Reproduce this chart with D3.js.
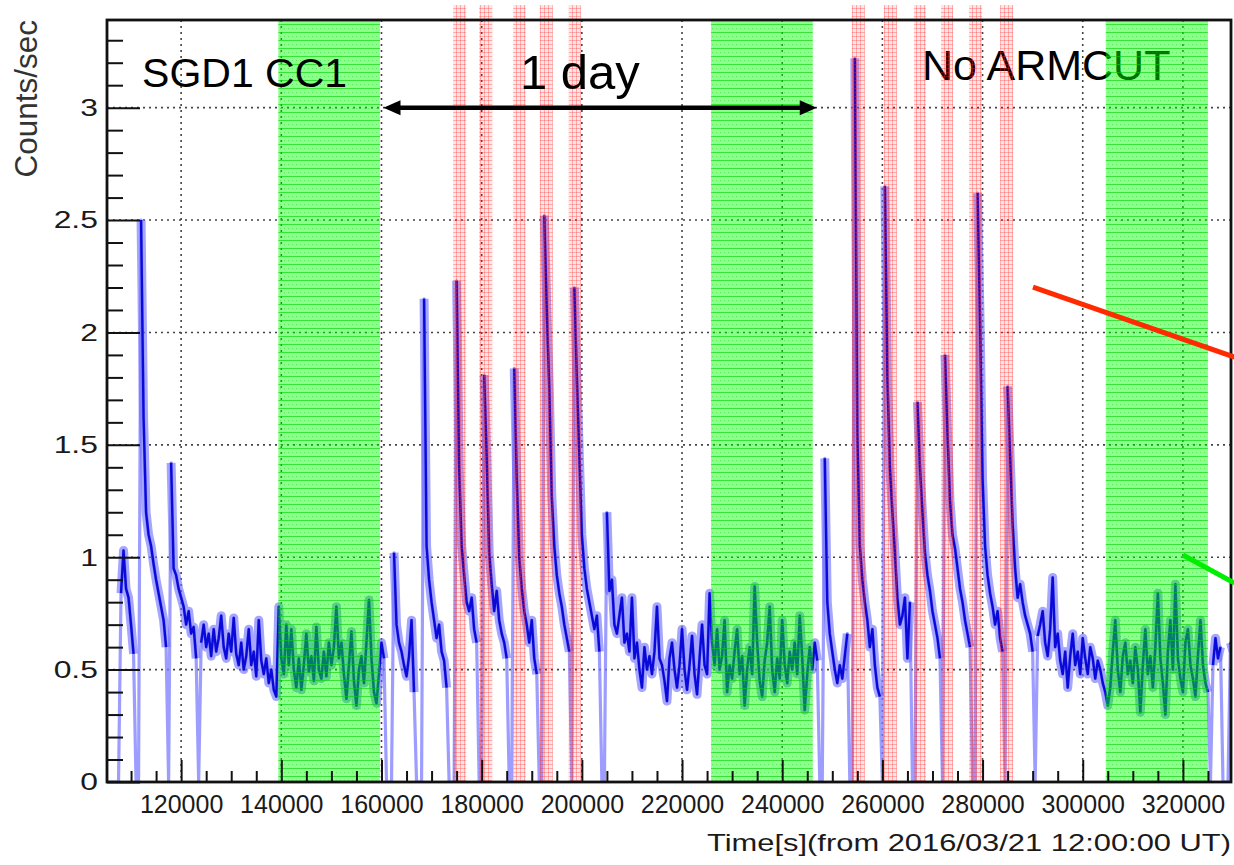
<!DOCTYPE html>
<html><head><meta charset="utf-8">
<script src="https://cdn.jsdelivr.net/npm/d3@7"></script>
<style>
body{margin:0;background:#fff;}
svg{display:block;}
text{font-family:'Liberation Sans',Arial,Helvetica,sans-serif;}
</style>
</head><body>
<svg id="c" width="1234" height="865"></svg>
<script>
// ---------------- data ----------------
const binStart = 105250;   // first bin lower edge [s]
const binWidth = 500;      // bin width [s]
const counts = [
  0,0,0,0,0,
  0.84,1.03,0.86,0.82,0.70,0.57,
  0,0,
  2.50,1.62,1.20,1.10,1.05,0.97,0.90,0.84,0.78,0.72,0.60,
  0,
  1.42,0.95,0.92,0.86,0.82,0.78,0.70,0.76,0.66,0.69,0.55,
  0,
  0.62,0.70,0.60,0.66,0.56,0.68,0.58,0.64,0.74,0.60,0.55,0.66,0.58,0.73,0.57,0.52,
  0.62,0.50,0.56,0.68,0.52,0.58,0.47,0.72,0.54,0.48,0.55,0.44,0.50,0.41,0.38,0.78,
  0.55,0.48,0.70,0.52,0.68,0.50,0.42,0.55,0.41,0.52,0.66,0.49,0.56,0.45,0.69,0.50,
  0.46,0.58,0.47,0.62,0.52,0.60,0.78,0.55,0.62,0.48,0.37,0.52,0.67,0.45,0.34,0.50,
  0.56,0.44,0.62,0.81,0.55,0.40,0.35,0.48,0.62,0.55,
  0,0,0,
  1.02,0.70,0.62,0.58,0.52,0.47,0.56,0.72,0.40,
  0,0,0,
  2.15,1.05,0.90,0.80,0.72,0.64,0.70,0.58,0.54,0.42,
  0,0,0,
  2.23,1.40,1.05,0.92,0.80,0.76,0.82,0.68,0.62,
  0,0,
  1.81,1.45,1.02,0.88,0.76,0.85,0.72,0.66,0.62,0.55,
  0,0,
  1.84,1.35,1.00,0.86,0.76,0.70,0.62,0.72,0.55,0.48,
  0,0,
  2.52,2.10,1.75,1.27,1.05,0.92,0.84,0.78,0.70,0.64,0.58,
  0,
  2.20,1.80,1.45,1.10,0.95,0.86,0.80,0.74,0.68,0.74,0.58,
  0,0,
  1.20,0.85,0.90,0.70,0.66,0.74,0.82,0.62,0.66,0.58,0.82,0.55,0.62,0.50,0.42,0.60,
  0.50,0.56,0.48,0.58,0.78,0.55,0.52,0.45,0.36,0.55,0.62,0.50,0.42,0.52,0.68,0.50,
  0.41,0.52,0.65,0.48,0.39,0.55,0.70,0.52,0.48,0.84,
  0.62,0.52,0.68,0.50,0.56,0.72,0.40,0.52,0.46,0.58,0.68,0.48,0.56,0.34,0.50,0.60,
  0.48,0.87,0.62,0.45,0.38,0.54,0.62,0.78,0.50,0.40,0.55,0.46,0.72,0.52,0.44,0.58,
  0.50,0.62,0.48,0.74,0.55,0.32,0.48,0.60,0.50,0.62,0.54,
  0,0,
  1.44,0.80,0.66,0.58,0.50,0.44,0.52,0.46,0.56,0.66,
  0,0,
  3.22,1.55,1.05,0.90,0.80,0.72,0.60,0.68,0.52,0.42,0.38,
  0,
  2.65,1.80,1.40,1.20,1.02,0.82,0.70,0.74,0.82,0.55,0.80,
  0,0,
  1.69,1.40,1.20,1.02,0.92,0.85,0.76,0.70,0.64,0.55,
  0,
  1.90,1.55,1.25,1.10,1.04,0.95,0.86,0.80,0.72,0.66,0.60,
  0,0,
  2.62,2.05,1.35,1.05,0.92,0.84,0.78,0.70,0.76,0.64,0.58,
  0,
  1.76,1.45,1.15,0.95,0.82,0.88,0.80,0.74,0.70,0.66,0.58,
  0,
  0.65,0.70,0.76,0.62,0.56,0.68,0.91,0.60,0.66,0.54,0.48,0.58,0.42,0.56,0.66,0.52,
  0.58,0.48,0.64,0.55,0.48,0.60,0.55,0.46,0.54,0.50,0.44,0.40,0.34,
  0.42,0.58,0.72,0.50,0.40,0.56,0.62,0.48,0.54,0.44,0.60,0.50,0.31,0.52,0.68,0.48,
  0.56,0.42,0.60,0.84,0.55,0.44,0.30,0.58,0.72,0.50,0.88,0.55,0.46,0.40,0.62,0.68,
  0.52,0.46,0.38,0.56,0.72,0.52,0.44,0.40,
  0,
  0.52,0.64,0.55,0.60,
  0,0,0,
  0.62,0.58
];
const greenStart = [139400, 225800, 304600];
const greenEnd   = [159700, 246100, 325000];
const redStart = [174300, 179500, 186300, 191600, 197400, 253900, 260300, 266300, 271700, 277300, 283500];
const redEnd   = [176900, 182100, 188800, 194200, 199800, 256500, 262900, 268700, 274100, 279900, 286100];
const xTicks = [120000,140000,160000,180000,200000,220000,240000,260000,280000,300000,320000];
const yTicks = [0,0.5,1,1.5,2,2.5,3];
const xDomain = [105200, 329600];
const yDomain = [0, 3.39];
const labelTexts = ["SGD1 CC1", "1 day", "No ARMCUT"];
const labelT = [112200, 187650, 267900];
const labelV = [3.09, 3.083, 3.123];
const labelSize = [41, 49, 43];
const labelOnTop = [true, true, false];
const arrowSpan = [160400, 246900];
const arrowLevel = 3.0;
const redLinePts = [[290070, 2.202], [330300, 1.89]];
const greenLinePts = [[320000, 1.01], [330300, 0.885]];
const xTitle = "Time[s](from 2016/03/21 12:00:00 UT)";
const yTitle = "Counts/sec";

// ---------------- drawing ----------------
const svg = d3.select("#c");
const M = {l:107, r:1231, t:20, b:782};
const x = d3.scaleLinear().domain(xDomain).range([M.l, M.r]);
const y = d3.scaleLinear().domain(yDomain).range([M.b, M.t]);

const defs = svg.append("defs");
defs.append("clipPath").attr("id","plotclip").append("rect")
  .attr("x",M.l).attr("y",M.t).attr("width",M.r-M.l).attr("height",M.b-M.t);
const gp = defs.append("pattern").attr("id","gpat").attr("patternUnits","userSpaceOnUse")
  .attr("width",4).attr("height",8);
gp.append("rect").attr("width",4).attr("height",8).attr("fill","#00ff00").attr("fill-opacity",0.45);
gp.append("rect").attr("width",4).attr("height",1).attr("fill","#00d000").attr("fill-opacity",0.6);
gp.append("rect").attr("x",0).attr("y",4).attr("width",1).attr("height",1).attr("fill","#00c000").attr("fill-opacity",0.35);
const rp = defs.append("pattern").attr("id","rpat").attr("patternUnits","userSpaceOnUse")
  .attr("width",4).attr("height",4);
rp.append("rect").attr("width",4).attr("height",4).attr("fill","#ff0000").attr("fill-opacity",0.10);
rp.append("rect").attr("width",4).attr("height",1).attr("fill","#ff3030").attr("fill-opacity",0.32);
rp.append("rect").attr("width",1).attr("height",4).attr("fill","#ff3030").attr("fill-opacity",0.32);

// grid
const grid = svg.append("g");
grid.selectAll("line.vx").data(xTicks).join("line")
  .attr("x1",d=>x(d)).attr("x2",d=>x(d)).attr("y1",M.t).attr("y2",M.b)
  .attr("stroke","#444").attr("stroke-width",1.6).attr("stroke-dasharray","2,4");
grid.selectAll("line.hy").data(yTicks.filter(d=>d>0)).join("line")
  .attr("y1",d=>y(d)).attr("y2",d=>y(d)).attr("x1",M.l).attr("x2",M.r)
  .attr("stroke","#444").attr("stroke-width",1.6).attr("stroke-dasharray","2,4");

// annotation texts drawn under the bands
const addLabels = (flag) => svg.append("g").selectAll("text")
  .data(labelTexts.map((t,i)=>({t,i})).filter(d=>labelOnTop[d.i]===flag)).join("text")
  .attr("x",d=>x(labelT[d.i])).attr("y",d=>y(labelV[d.i]))
  .attr("font-size",d=>labelSize[d.i]).attr("fill","#000").text(d=>d.t);
addLabels(false);

// data
const bx = (d,i)=>x(binStart + binWidth*i + binWidth/2);
const lineAll = d3.line().x(bx).y(d=>y(d));
const lineOn = d3.line().defined(d=>d>0).x(bx).y(d=>y(d));
const dg = svg.append("g").attr("clip-path","url(#plotclip)");
dg.append("path").datum(counts).attr("d",lineAll).attr("fill","none")
  .attr("stroke","#7c7cff").attr("stroke-opacity",0.75).attr("stroke-width",3.2).attr("stroke-linejoin","round");
dg.append("path").datum(counts).attr("d",lineOn).attr("fill","none")
  .attr("stroke","#6a6aff").attr("stroke-opacity",0.6).attr("stroke-width",9).attr("stroke-linejoin","round");
dg.append("path").datum(counts).attr("d",lineOn).attr("fill","none")
  .attr("stroke","#0a0ad8").attr("stroke-width",2.4).attr("stroke-linejoin","round");

// bands
svg.append("g").selectAll("rect").data(greenStart).join("rect")
  .attr("x",d=>x(d)).attr("width",(d,i)=>x(greenEnd[i])-x(d))
  .attr("y",M.t).attr("height",M.b-M.t).attr("fill","url(#gpat)");
svg.append("g").selectAll("rect").data(redStart).join("rect")
  .attr("x",d=>x(d)).attr("width",(d,i)=>x(redEnd[i])-x(d))
  .attr("y",M.t-15).attr("height",M.b-M.t+15).attr("fill","url(#rpat)");

addLabels(true);

// axes
const gx = svg.append("g").attr("transform",`translate(0,${M.b})`)
  .call(d3.axisBottom(x).tickValues(xTicks).tickSizeInner(-22).tickSizeOuter(0).tickPadding(13).tickFormat(d3.format("d")));
const xMinor = d3.range(110000, 330000, 5000).filter(v=>!xTicks.includes(v));
const gxm = svg.append("g").attr("transform",`translate(0,${M.b})`)
  .call(d3.axisBottom(x).tickValues(xMinor).tickSizeInner(-11).tickSizeOuter(0).tickFormat(""));
const gy = svg.append("g").attr("transform",`translate(${M.l},0)`)
  .call(d3.axisLeft(y).tickValues(yTicks).tickSizeInner(-33).tickSizeOuter(0).tickPadding(7).tickFormat(d=>String(d)));
const yMinor = d3.range(1,34).map(k=>k/10).filter(v=>Math.abs(v*2-Math.round(v*2))>1e-6);
const gym = svg.append("g").attr("transform",`translate(${M.l},0)`)
  .call(d3.axisLeft(y).tickValues(yMinor).tickSizeInner(-16).tickSizeOuter(0).tickFormat(""));
[gx,gxm,gy,gym].forEach(g=>{
  g.select(".domain").remove();
  g.selectAll(".tick line").attr("stroke","#111").attr("stroke-width",2);
});
gx.selectAll("text").attr("font-size",25).attr("fill","#1a1a1a")
  .attr("font-family","'Liberation Sans',Arial,sans-serif");
gy.selectAll("text").attr("font-size",24.5).attr("fill","#1a1a1a")
  .attr("font-family","'Liberation Sans',Arial,sans-serif")
  .attr("transform","scale(1.3,1)");

// frame
svg.append("rect").attr("x",M.l).attr("y",M.t).attr("width",M.r-M.l).attr("height",M.b-M.t)
  .attr("fill","none").attr("stroke","#111").attr("stroke-width",2.8);

// axis titles
svg.append("text").attr("transform",`translate(37,${M.t}) rotate(-90)`)
  .attr("text-anchor","end").attr("font-size",31.5).attr("fill","#333").text(yTitle);
svg.append("text").attr("x",M.r).attr("y",851).attr("text-anchor","end")
  .attr("font-size",24).attr("fill","#1a1a1a")
  .attr("textLength",524).attr("lengthAdjust","spacingAndGlyphs").text(xTitle);

// 1 day arrow
const ay = y(arrowLevel), ax1 = x(arrowSpan[0]), ax2 = x(arrowSpan[1]);
const ag = svg.append("g");
ag.append("line").attr("x1",ax1+12).attr("x2",ax2-12).attr("y1",ay).attr("y2",ay)
  .attr("stroke","#000").attr("stroke-width",4.5);
ag.append("path").attr("d",`M${ax1},${ay} L${ax1+17},${ay-7.5} L${ax1+17},${ay+7.5} Z`).attr("fill","#000");
ag.append("path").attr("d",`M${ax2},${ay} L${ax2-17},${ay-7.5} L${ax2-17},${ay+7.5} Z`).attr("fill","#000");

// pointer lines
const pl = d3.line().x(d=>x(d[0])).y(d=>y(d[1]));
svg.append("path").attr("d",pl(redLinePts)).attr("stroke","#ff2a00").attr("stroke-width",5).attr("fill","none");
svg.append("path").attr("d",pl(greenLinePts)).attr("stroke","#00ee00").attr("stroke-width",5).attr("fill","none");
</script>
</body></html>
